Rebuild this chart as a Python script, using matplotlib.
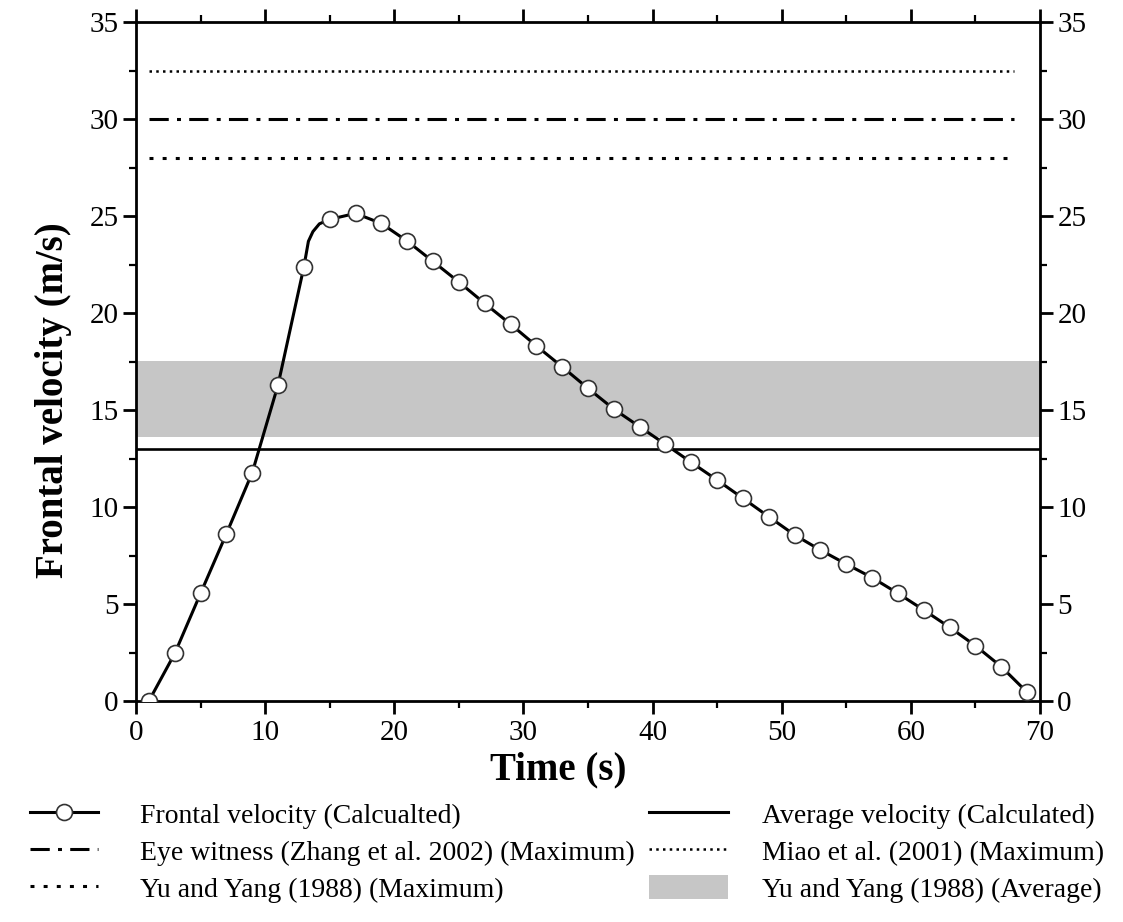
import matplotlib
matplotlib.use("Agg")
import matplotlib.pyplot as plt
from matplotlib.ticker import MultipleLocator
from matplotlib.lines import Line2D
from matplotlib.patches import Patch

plt.rcParams['font.family'] = ['Liberation Serif', 'DejaVu Serif']

# ---- data ----
time_s = [1, 3, 5, 7, 9, 11, 13, 15, 17, 19, 21, 23, 25, 27, 29, 31, 33, 35,
          37, 39, 41, 43, 45, 47, 49, 51, 53, 55, 57, 59, 61, 63, 65, 67, 69]
frontal_velocity = [0.0, 2.45, 5.55, 8.62, 11.77, 16.3, 22.38, 24.83, 25.14, 24.62,
                    23.71, 22.66, 21.6, 20.5, 19.43, 18.31, 17.23, 16.12, 15.05,
                    14.14, 13.23, 12.3, 11.39, 10.45, 9.5, 8.56, 7.78, 7.06, 6.36,
                    5.55, 4.69, 3.8, 2.85, 1.77, 0.45]
# extra points (line only) near the peak
curve_extra_t = [13.35, 13.7, 14.2]
curve_extra_v = [23.7, 24.2, 24.6]

average_velocity = 13.0
eye_witness_max = 30.0
miao_max = 32.5
yu_yang_max = 28.0
yu_yang_avg_low = 13.6
yu_yang_avg_high = 17.55
ref_line_start, ref_line_end = 1.0, 68.0

labels = ["Frontal velocity (Calcualted)",
          "Eye witness (Zhang et al. 2002) (Maximum)",
          "Yu and Yang (1988) (Maximum)",
          "Average velocity (Calculated)",
          "Miao et al. (2001) (Maximum)",
          "Yu and Yang (1988) (Average)"]

# ---- figure ----
fig = plt.figure(figsize=(11.23, 9.22), dpi=100)
ax = fig.add_axes([0.1211, 0.2397, 0.8050, 0.7363])

band_color = '#c6c6c6'
ax.axhspan(yu_yang_avg_low, yu_yang_avg_high, color=band_color, lw=0, zorder=1)
ax.axhline(average_velocity, color='black', lw=1.9, zorder=2)

ax.plot([ref_line_start, ref_line_end], [miao_max, miao_max], color='black',
        lw=1.8, dashes=(1.0, 1.7), zorder=2)
ax.plot([ref_line_start, ref_line_end], [eye_witness_max, eye_witness_max], color='black',
        lw=2.2, dashes=(6.3, 2.7, 1.3, 2.7), zorder=2)
ax.plot([ref_line_start, ref_line_end], [yu_yang_max, yu_yang_max], color='black',
        lw=2.2, dashes=(1.3, 3.0), zorder=2)

# curve (line through data + extra read points), then markers
pts = sorted(zip(time_s + curve_extra_t, frontal_velocity + curve_extra_v))
ax.plot([p[0] for p in pts], [p[1] for p in pts], color='black', lw=2.2, zorder=3,
        solid_joinstyle='round')
ax.plot(time_s, frontal_velocity, ls='none', marker='o', ms=11.5, mfc='white',
        mec='#333333', mew=1.2, zorder=4)

ax.set_xlim(0, 70)
ax.set_ylim(0, 35)
ax.xaxis.set_major_locator(MultipleLocator(10))
ax.xaxis.set_minor_locator(MultipleLocator(5))
ax.yaxis.set_major_locator(MultipleLocator(5))
ax.yaxis.set_minor_locator(MultipleLocator(2.5))

for s in ax.spines.values():
    s.set_linewidth(2.0)
ax.tick_params(which='both', direction='out', top=True, right=True,
               labelright=True, labeltop=False, labelsize=21)
ax.tick_params(axis='x', pad=4)
ax.tick_params(axis='y', pad=3)
ax.tick_params(which='major', length=9.5, width=2.0)
ax.tick_params(which='minor', length=5, width=1.6)

ax.set_xlabel('Time (s)', fontsize=28, fontweight='bold')
ax.xaxis.set_label_coords(0.467, -0.074)
ax.set_ylabel('Frontal velocity (m/s)', fontsize=28, fontweight='bold')
ax.yaxis.set_label_coords(-0.071, 0.443)

# ---- legends ----
h_frontal = Line2D([], [], color='black', lw=2.2, marker='o', ms=11.5, mfc='white',
                   mec='#333333', mew=1.2)
h_eye = Line2D([], [], color='black', lw=2.2, dashes=(6.3, 2.7, 1.3, 2.7))
h_yumax = Line2D([], [], color='black', lw=2.2, dashes=(1.3, 3.0))
h_avg = Line2D([], [], color='black', lw=2.2)
h_miao = Line2D([], [], color='black', lw=1.8, dashes=(1.0, 1.7))
h_band = Patch(facecolor=band_color, edgecolor='none')

common = dict(frameon=False, fontsize=20, labelspacing=0.34, borderpad=0,
              borderaxespad=0, numpoints=1, handleheight=0.95, loc='center left')
leg1 = fig.legend([h_frontal, h_eye, h_yumax], labels[:3],
                  bbox_to_anchor=(30 / 1123, 1 - 852 / 922),
                  handlelength=2.45, handletextpad=1.5, **common)
leg2 = fig.legend([h_avg, h_miao, h_band], labels[3:],
                  bbox_to_anchor=(649 / 1123, 1 - 852 / 922),
                  handlelength=2.85, handletextpad=1.2, **common)

fig.savefig('out.png', dpi=100)
